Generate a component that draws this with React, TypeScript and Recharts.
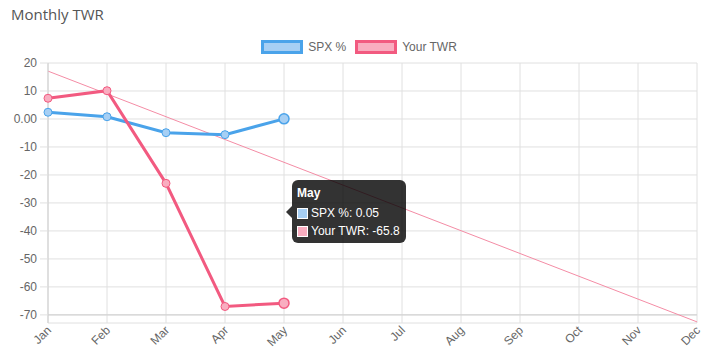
import { LineChart, Line, XAxis, YAxis, CartesianGrid, Tooltip, ReferenceLine } from 'recharts'

const months = ['Jan', 'Feb', 'Mar', 'Apr', 'May', 'Jun', 'Jul', 'Aug', 'Sep', 'Oct', 'Nov', 'Dec']
const spxValues = [2.4, 0.8, -4.9, -5.6, 0.05]
const twrValues = [7.4, 10.1, -23.0, -67.0, -65.8]
// trend line: only the two ends are plotted, joined with connectNulls
const trendValues = [17.1, null, null, null, null, null, null, null, null, null, null, -72.5]
const yTicks = [20, 10, 0, -10, -20, -30, -40, -50, -60, -70]

const SERIES = [
  { key: 'spx', name: 'SPX %', stroke: '#4aa3ea', fill: '#a6cff4' },
  { key: 'twr', name: 'Your TWR', stroke: '#f25a80', fill: '#f9adc0' },
]

const data = months.map((month, i) => ({
  month,
  spx: spxValues[i] ?? null,
  twr: twrValues[i] ?? null,
  trend: trendValues[i],
}))

const FONT = "'Liberation Sans', Arial, sans-serif"

// eslint-disable-next-line @typescript-eslint/no-explicit-any
function MonthTick({ x, y, payload }: any) {
  return (
    <g transform={`translate(${x + 1},${y + 5})`}>
      <text transform="rotate(-45)" textAnchor="end" dy="0.35em" fontSize={12} fill="#666" fontFamily={FONT}>
        {payload.value}
      </text>
    </g>
  )
}

// eslint-disable-next-line @typescript-eslint/no-explicit-any
function DarkTooltip({ active, payload, label }: any) {
  if (!active || !payload?.length) return null
  // eslint-disable-next-line @typescript-eslint/no-explicit-any
  const rows = SERIES.map((s) => ({ s, entry: payload.find((p: any) => p.dataKey === s.key) })).filter(
    (r) => r.entry && r.entry.value != null,
  )
  return (
    <div
      style={{
        position: 'relative',
        background: 'rgba(0,0,0,0.8)',
        borderRadius: 6,
        padding: '6px 6px 3px 5px',
        color: '#fff',
        fontFamily: FONT,
        fontSize: 12,
        whiteSpace: 'nowrap',
      }}
    >
      <div
        style={{
          position: 'absolute',
          left: -6,
          top: 26,
          width: 0,
          height: 0,
          borderTop: '6px solid transparent',
          borderBottom: '6px solid transparent',
          borderRight: '6px solid rgba(0,0,0,0.8)',
        }}
      />
      <div style={{ fontWeight: 700, lineHeight: '14px', marginBottom: 4 }}>{label}</div>
      {rows.map(({ s, entry }) => (
        <div key={s.key} style={{ display: 'flex', alignItems: 'center', height: 18 }}>
          <span
            style={{
              display: 'inline-block',
              width: 11,
              height: 11,
              boxSizing: 'border-box',
              background: s.fill,
              border: '1px solid #fff',
              marginRight: 3,
            }}
          />
          {s.name}: {entry.value}
        </div>
      ))}
    </div>
  )
}

export default function App() {
  return (
    <div style={{ position: 'absolute', left: 0, top: 0, width: 709, height: 351, background: '#fff' }}>
      <div
        style={{
          position: 'absolute',
          left: 11,
          top: 4,
          fontFamily: "'Open Sans', 'Noto Sans', sans-serif",
          fontSize: 15,
          color: '#555',
        }}
      >
        Monthly TWR
      </div>
      <div
        style={{
          position: 'absolute',
          left: 0,
          top: 39,
          width: 709,
          display: 'flex',
          justifyContent: 'center',
          gap: 9,
          fontFamily: FONT,
          fontSize: 12,
          color: '#666',
          paddingLeft: 9,
          boxSizing: 'border-box',
        }}
      >
        {SERIES.map((s) => (
          <div key={s.key} style={{ display: 'flex', alignItems: 'center', height: 15 }}>
            <span
              style={{
                display: 'inline-block',
                width: 42,
                height: 14,
                boxSizing: 'border-box',
                background: s.fill,
                border: `3px solid ${s.stroke}`,
                marginRight: 5,
              }}
            />
            {s.name}
          </div>
        ))}
      </div>
      <div style={{ position: 'absolute', left: 0, top: 0 }}>
        <LineChart width={709} height={351} data={data} margin={{ top: 63, right: 12, left: 8, bottom: 0 }}>
          <CartesianGrid stroke="#e0e0e0" />
          <XAxis
            dataKey="month"
            height={28}
            interval={0}
            tickLine={false}
            axisLine={false}
            tickSize={0}
            tickMargin={0}
            tick={<MonthTick />}
          />
          <YAxis
            width={40}
            type="number"
            domain={[-72.9, 20]}
            ticks={yTicks}
            interval={0}
            tickSize={8}
            tickMargin={3}
            tickLine={{ stroke: '#e0e0e0' }}
            axisLine={{ stroke: '#cfcfcf' }}
            tick={{ fontSize: 12, fill: '#666', fontFamily: FONT }}
            tickFormatter={(v: number) => (v === 0 ? '0.00' : String(v))}
          />
          <ReferenceLine y={-70} stroke="#cfcfcf" />
          <Line
            dataKey="trend"
            stroke="#f48ca5"
            strokeWidth={1}
            dot={false}
            activeDot={false}
            connectNulls
            legendType="none"
            isAnimationActive={false}
          />
          {SERIES.map((s) => (
            <Line
              key={s.key}
              dataKey={s.key}
              name={s.name}
              stroke={s.stroke}
              strokeWidth={3}
              dot={{ r: 4, fill: s.fill, stroke: s.stroke, strokeWidth: 1 }}
              activeDot={{ r: 5, fill: s.fill, stroke: s.stroke, strokeWidth: 1.5 }}
              isAnimationActive={false}
            />
          ))}
          <Tooltip
            active
            defaultIndex={4}
            cursor={false}
            position={{ x: 292, y: 180 }}
            allowEscapeViewBox={{ x: true, y: true }}
            wrapperStyle={{ outline: 'none' }}
            content={<DarkTooltip />}
            isAnimationActive={false}
          />
        </LineChart>
      </div>
    </div>
  )
}
